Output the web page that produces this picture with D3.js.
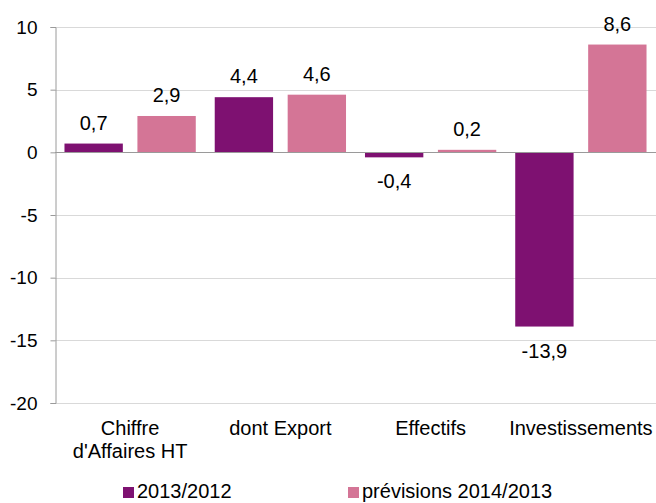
<!DOCTYPE html>
<html>
<head>
<meta charset="utf-8">
<script src="https://cdn.jsdelivr.net/npm/d3@7"></script>
<style>
  body { margin: 0; background: #fff; }
  svg { display: block; font-family: "Liberation Sans", Arial, sans-serif; }
</style>
</head>
<body>
<div id="chart"></div>
<script>
const categories = [["Chiffre", "d'Affaires HT"], ["dont Export"], ["Effectifs"], ["Investissements"]];
const seriesNames = ["2013/2012", "prévisions 2014/2013"];
const values2013 = [0.7, 4.4, -0.4, -13.9];
const values2014 = [2.9, 4.6, 0.2, 8.6];
const yTicks = [-20, -15, -10, -5, 0, 5, 10];
const colors = ["#7e1171", "#d47596"];

const width = 656, height = 503;
const margin = { top: 27, right: 0, bottom: 100, left: 55 };

const svg = d3.select('#chart').append('svg')
  .attr('width', width)
  .attr('height', height);

const catKeys = categories.map(c => c.join(' '));
const x0 = d3.scaleBand()
  .domain(catKeys)
  .range([margin.left, width - margin.right])
  .padding(0);

const x1 = d3.scaleBand()
  .domain(seriesNames)
  .range([0, x0.bandwidth()])
  .paddingInner(0.2)
  .paddingOuter(0.13);

const y = d3.scaleLinear()
  .domain([-20, 10])
  .range([height - margin.bottom, margin.top]);

// gridlines
svg.append('g')
  .selectAll('line')
  .data(yTicks)
  .enter().append('line')
    .attr('x1', margin.left)
    .attr('x2', width - margin.right)
    .attr('y1', d => Math.round(y(d)) + 0.5)
    .attr('y2', d => Math.round(y(d)) + 0.5)
    .attr('stroke', '#d9d9d9')
    .attr('stroke-width', 1);

// y axis (plain hyphen for negatives, like the original)
const yAxis = svg.append('g')
  .attr('transform', `translate(${margin.left + 0.5},0)`)
  .call(d3.axisLeft(y).tickValues(yTicks).tickSize(5).tickPadding(13).tickFormat(d => String(d)));
yAxis.select('.domain').attr('stroke', '#9a9a9a');
yAxis.selectAll('.tick line').attr('stroke', '#9a9a9a');
yAxis.selectAll('text')
  .style('font-size', '19px')
  .style('fill', '#000')
  .style('font-family', '"Liberation Sans", Arial, sans-serif');

const rows = catKeys.map((k, i) => ({ key: k, vals: [values2013[i], values2014[i]] }));

const groups = svg.append('g')
  .selectAll('g')
  .data(rows)
  .enter().append('g')
    .attr('transform', d => `translate(${x0(d.key)},0)`);

groups.selectAll('rect')
  .data(d => d.vals.map((v, j) => ({ s: seriesNames[j], v, j })))
  .enter().append('rect')
    .attr('x', d => x1(d.s))
    .attr('width', x1.bandwidth())
    .attr('y', d => y(Math.max(0, d.v)))
    .attr('height', d => Math.abs(y(d.v) - y(0)))
    .attr('fill', d => colors[d.j]);

// zero line on top
svg.append('line')
  .attr('x1', margin.left)
  .attr('x2', width - margin.right)
  .attr('y1', Math.round(y(0)) + 0.5)
  .attr('y2', Math.round(y(0)) + 0.5)
  .attr('stroke', '#9a9a9a');

// value labels
const fmt = v => String(v).replace('.', ',');
groups.selectAll('text.val')
  .data(d => d.vals.map((v, j) => ({ s: seriesNames[j], v, j })))
  .enter().append('text')
    .attr('class', 'val')
    .attr('x', d => x1(d.s) + x1.bandwidth() / 2)
    .attr('y', d => d.v >= 0 ? y(d.v) - 14 : y(d.v) + 31)
    .attr('text-anchor', 'middle')
    .style('font-size', '20px')
    .style('fill', '#000')
    .text(d => fmt(d.v));

// category labels
const catG = svg.append('g');
categories.forEach((lines, i) => {
  const t = catG.append('text')
    .attr('x', x0(catKeys[i]) + x0.bandwidth() / 2)
    .attr('y', 435)
    .attr('text-anchor', 'middle')
    .style('font-size', '20px')
    .style('fill', '#000');
  lines.forEach((l, k) => {
    t.append('tspan')
      .attr('x', x0(catKeys[i]) + x0.bandwidth() / 2)
      .attr('dy', k === 0 ? 0 : 23)
      .text(l);
  });
});

// legend
const legendX = [123, 348];
const legend = svg.append('g');
seriesNames.forEach((name, i) => {
  legend.append('rect')
    .attr('x', legendX[i])
    .attr('y', 487)
    .attr('width', 11)
    .attr('height', 11)
    .attr('fill', colors[i]);
  legend.append('text')
    .attr('x', legendX[i] + 14)
    .attr('y', 498)
    .style('font-size', '20px')
    .style('fill', '#000')
    .text(name);
});
</script>
</body>
</html>
